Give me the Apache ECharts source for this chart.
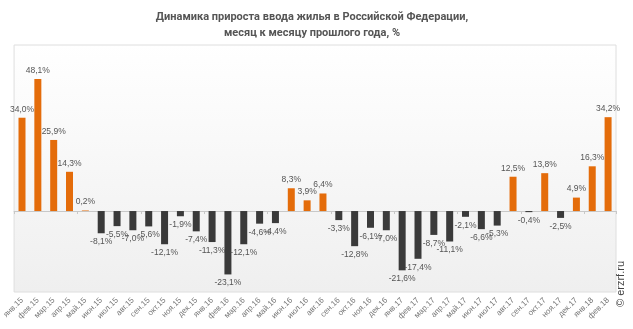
<!DOCTYPE html>
<html><head><meta charset="utf-8">
<script src="https://cdn.jsdelivr.net/npm/echarts@6/dist/echarts.min.js"></script>
<style>html,body{margin:0;padding:0;background:#fff}#c{width:633px;height:329px}</style>
</head><body><div id="c"></div>
<script>
var categories = ['янв.15','фев.15','мар.15','апр.15','май.15','июн.15','июл.15','авг.15','сен.15','окт.15','ноя.15','дек.15',
'янв.16','фев.16','мар.16','апр.16','май.16','июн.16','июл.16','авг.16','сен.16','окт.16','ноя.16','дек.16',
'янв.17','фев.17','мар.17','апр.17','май.17','июн.17','июл.17','авг.17','сен.17','окт.17','ноя.17','дек.17',
'янв.18','фев.18'];
var values = [34.0,48.1,25.9,14.3,0.2,-8.1,-5.5,-7.0,-5.6,-12.1,-1.9,-7.4,
-11.3,-23.1,-12.1,-4.6,-4.4,8.3,3.9,6.4,-3.3,-12.8,-6.1,-7.0,
-21.6,-17.4,-8.7,-11.1,-2.1,-6.6,-5.3,12.5,-0.4,13.8,-2.5,4.9,
16.3,34.2];
var titleLines = ['Динамика прироста ввода жилья в Российской Федерации,','месяц к месяцу прошлого года, %'];
var credit = '© erzrf.ru';

var chart = echarts.init(document.getElementById('c'));
var data = values.map(function(v){
  return {
    value: v,
    itemStyle: {color: v >= 0 ? '#e46c0a' : '#3a3a3a'},
    label: {position: v >= 0 ? 'top' : 'bottom'}
  };
});
chart.setOption({
  animation: false,
  title: {
    text: titleLines.join('\n'),
    left: 307, textAlign: 'center', top: 4,
    textStyle: {fontFamily: 'Roboto', fontSize: 11, fontWeight: 'bold', color: '#555', lineHeight: 16}
  },
  grid: {
    left: 14, right: 17, top: 45, bottom: 37,
    show: true, borderColor: '#dedede', borderWidth: 1,
    backgroundColor: new echarts.graphic.LinearGradient(0,0,0,1,[{offset:0,color:'#ffffff'},{offset:1,color:'#efefef'}])
  },
  xAxis: [{
    type: 'category', data: categories,
    axisLine: {show: false, onZero: false}, axisTick: {show: false},
    axisLabel: {interval: 0, rotate: 45, fontSize: 8, color: '#777', fontFamily: 'Arial', margin: 7}
  },{
    type: 'category', data: categories, position: 'bottom',
    axisLine: {show: true, onZero: true, lineStyle: {color: '#c8c8c8'}},
    axisTick: {show: true, length: 3, lineStyle: {color: '#c8c8c8'}},
    axisLabel: {show: false}
  }],
  yAxis: {type: 'value', min: -29.5, max: 60.5, show: false, splitLine: {show: false}},
  series: [{
    type: 'bar', data: data, barWidth: 7, xAxisIndex: 0,
    label: {show: true, fontSize: 8.5, color: '#555', fontFamily: 'Arial', distance: 4,
      formatter: function(p){ return p.value.toFixed(1).replace('.', ',') + '%'; }}
  },{
    type: 'bar', data: [], xAxisIndex: 1
  }],
  graphic: [{
    type: 'text', x: 621, y: 284, rotation: Math.PI/2,
    style: {text: credit, fontSize: 11, fill: '#444', fontFamily: 'Arial', align: 'center', verticalAlign: 'middle'}
  }]
});
</script></body></html>
